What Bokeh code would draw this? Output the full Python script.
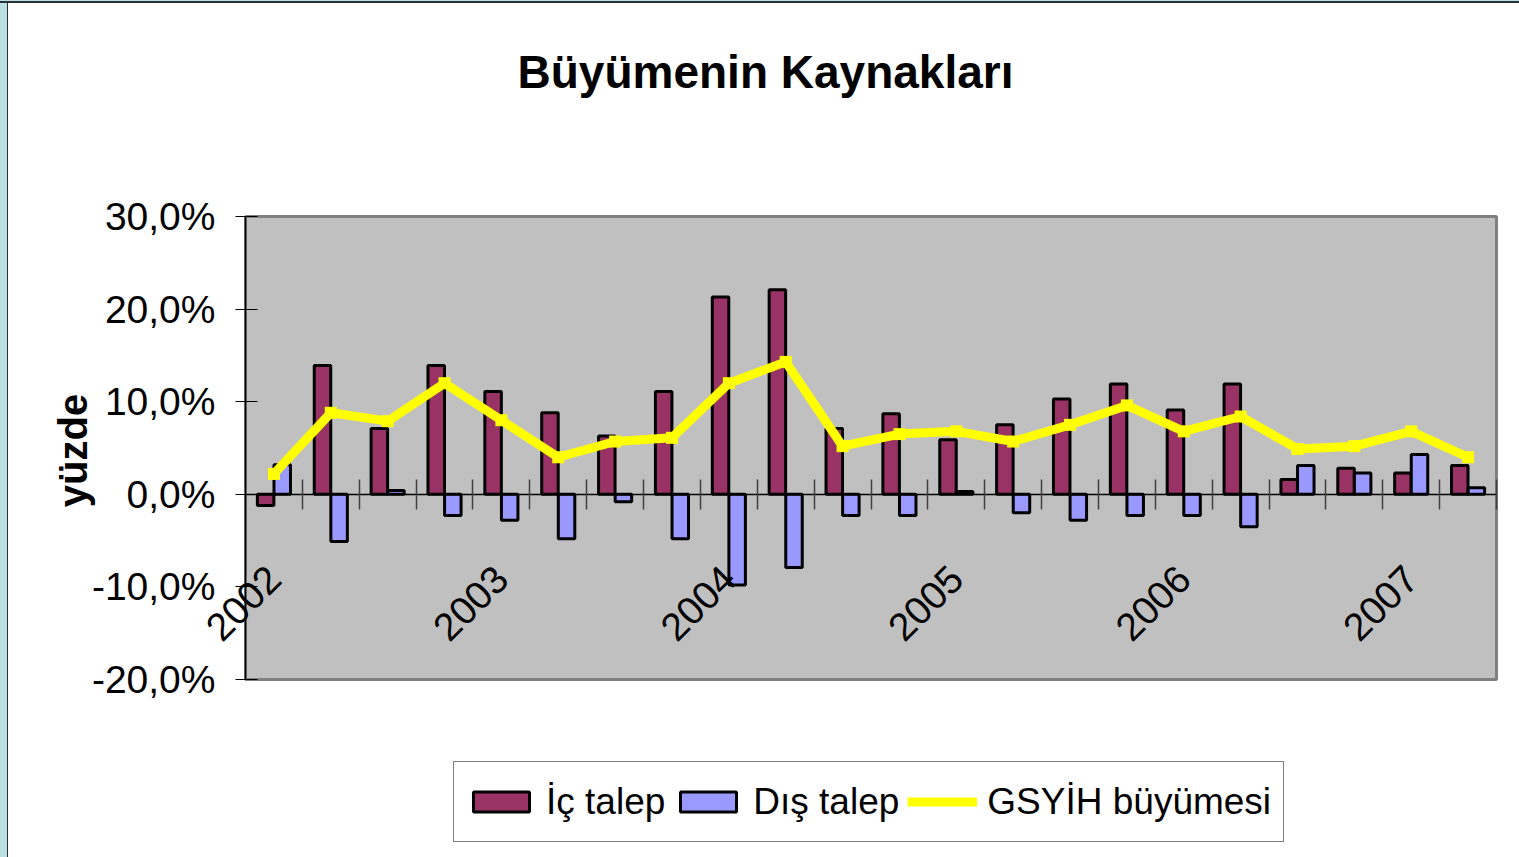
import math
from bokeh.plotting import figure
from bokeh.models import (Range1d, LinearAxis, FixedTicker, Label,
                          ColumnDataSource, Legend, LegendItem)
from bokeh.transform import dodge
from bokeh.embed import file_html
from bokeh.resources import INLINE

# ---------------- data ----------------
years = ["2002", "2003", "2004", "2005", "2006", "2007"]
quarter_names = ["Ç1", "Ç2", "Ç3", "Ç4"]
quarters = [f"{y} {q}" for y in years for q in quarter_names][:22]

ic_talep = [-1.2, 13.9, 7.1, 13.9, 11.1, 8.8, 6.3, 11.1, 21.3, 22.1, 7.1,
            8.7, 5.9, 7.5, 10.3, 11.9, 9.1, 11.9, 1.6, 2.8, 2.3, 3.1]
dis_talep = [3.2, -5.1, 0.4, -2.3, -2.8, -4.8, -0.8, -4.8, -9.8, -7.9, -2.3,
             -2.3, 0.3, -2.0, -2.8, -2.3, -2.3, -3.5, 3.1, 2.3, 4.3, 0.7]
gsyih = [2.2, 8.8, 7.9, 12.0, 8.0, 4.0, 5.7, 6.1, 12.0, 14.3, 5.2,
         6.5, 6.8, 5.7, 7.5, 9.6, 6.8, 8.4, 4.9, 5.2, 6.8, 4.0]

y_ticks = [-20, -10, 0, 10, 20, 30]
y_labels = ["-20,0%", "-10,0%", "0,0%", "10,0%", "20,0%", "30,0%"]

series_names = ["İç talep", "Dış talep", "GSYİH büyümesi"]
title_text = "Büyümenin Kaynakları"
y_title = "yüzde"

FONT = "'Liberation Sans', Arial, sans-serif"

# ---------------- layout (page pixels) ----------------
FIG_X0, FIG_Y0, FIG_W, FIG_H = 8, 3, 1511, 854       # figure box on the page
AREA_L, AREA_R, AREA_T, AREA_B = 245, 1496, 216, 679  # grey plot area on the page

n = len(quarters)
slot_center = [i + 0.5 for i in range(n)]             # quarter i occupies [i, i+1]
year_ticks = [slot_center[i] for i, q in enumerate(quarters) if q.endswith(quarter_names[0])]

px_x = (AREA_R - AREA_L) / n
px_y = (AREA_B - AREA_T) / (y_ticks[-1] - y_ticks[0])
x_lo = -(AREA_L - FIG_X0) / px_x
x_hi = n + (FIG_X0 + FIG_W - AREA_R) / px_x
y_hi = y_ticks[-1] + (AREA_T - FIG_Y0) / px_y
y_lo = y_ticks[0] - (FIG_Y0 + FIG_H - AREA_B) / px_y


def sx(page_x):
    return page_x - FIG_X0


def sy(page_y):
    return FIG_Y0 + FIG_H - page_y


# ---------------- figure ----------------
p = figure(x_range=Range1d(x_lo, x_hi), y_range=Range1d(y_lo, y_hi),
           width=FIG_W, height=FIG_H, output_backend="svg", toolbar_location=None,
           title=None, x_axis_location=None, y_axis_location=None,
           min_border=0, background_fill_color="white", border_fill_color="white",
           outline_line_color=None)
p.margin = (FIG_Y0, 0, 0, FIG_X0)
p.grid.visible = False

# grey plot area
p.quad(left=[0], right=[n], bottom=[y_ticks[0]], top=[y_ticks[-1]],
       fill_color="#C0C0C0", line_color="#808080", line_width=3)

# ---------------- glyphs ----------------
src = ColumnDataSource(dict(x=slot_center, q=quarters, ic=ic_talep, dis=dis_talep, gdp=gsyih))
r1 = p.vbar(x=dodge("x", -0.146), top="ic", bottom=0, width=0.29,
            fill_color="#993366", line_color="black", line_width=3, source=src)
r2 = p.vbar(x=dodge("x", 0.146), top="dis", bottom=0, width=0.29,
            fill_color="#9999FF", line_color="black", line_width=3, source=src)
r3 = p.line(x="x", y="gdp", line_color="#FFFF00", line_width=9, source=src)
p.scatter(x="x", y="gdp", marker="square", size=12, fill_color="#FFFF00",
          line_color=None, source=src)

# ---------------- axes ----------------
ya = LinearAxis(fixed_location=0, bounds=(y_ticks[0], y_ticks[-1]),
                ticker=FixedTicker(ticks=y_ticks),
                major_label_overrides=dict(zip(y_ticks, y_labels)),
                major_tick_in=12, major_tick_out=10, major_tick_line_color="black",
                minor_tick_line_color=None, axis_line_color="black", axis_line_width=1.5,
                major_label_text_font=FONT, major_label_text_font_size="39px",
                major_label_text_color="black", major_label_standoff=20)
p.add_layout(ya, "left")

# zero line with ticks between quarters
ea = LinearAxis(fixed_location=0, bounds=(0, n),
                ticker=FixedTicker(ticks=list(range(1, n + 1))),
                major_tick_in=15, major_tick_out=15,
                major_tick_line_color="#404040", major_tick_line_width=1.5,
                minor_tick_line_color=None, axis_line_color="black",
                axis_line_width=1.5, major_label_text_color=None)
p.add_layout(ea, "below")

# year labels
xa = LinearAxis(fixed_location=0, bounds=(0, n),
                ticker=FixedTicker(ticks=year_ticks),
                major_label_overrides=dict(zip(year_ticks, years)),
                axis_line_color=None, major_tick_line_color=None,
                major_tick_in=0, major_tick_out=0, minor_tick_line_color=None,
                major_label_orientation=math.pi / 4, major_label_standoff=78,
                major_label_text_font=FONT, major_label_text_font_size="39px",
                major_label_text_color="black")
p.add_layout(xa, "below")

# ---------------- texts ----------------
p.add_layout(Label(x=sx(765), y=sy(71), x_units="screen", y_units="screen",
                   text=title_text, text_align="center", text_baseline="middle",
                   text_font=FONT, text_font_style="bold", text_font_size="46px",
                   text_color="black"))
p.add_layout(Label(x=sx(72), y=sy(450), x_units="screen", y_units="screen",
                   text=y_title, angle=math.pi / 2, text_align="center",
                   text_baseline="middle", text_font=FONT, text_font_style="bold",
                   text_font_size="40px", text_color="black"))

legend = Legend(items=[LegendItem(label=series_names[0], renderers=[r1]),
                       LegendItem(label=series_names[1], renderers=[r2]),
                       LegendItem(label=series_names[2], renderers=[r3])],
                orientation="horizontal", location=(sx(453), sy(842)),
                border_line_color="black", border_line_width=1,
                background_fill_color="white", background_fill_alpha=1,
                label_text_font=FONT, label_text_font_size="37px",
                label_text_color="black", label_height=55,
                glyph_width=70, glyph_height=25, label_standoff=10,
                spacing=8, padding=12, margin=0)
p.add_layout(legend, "center")

html = file_html(p, INLINE)
style = ("<style>body{background:"
         "linear-gradient(#bde0e3 0 1px,#26323a 1px 3px,transparent 3px),"
         "linear-gradient(to right,#bde0e3 0 7px,#26323a 7px 8px,#ffffff 8px);}</style>")
html = html.replace("</head>", style + "</head>", 1)
open("out.html", "w").write(html)
